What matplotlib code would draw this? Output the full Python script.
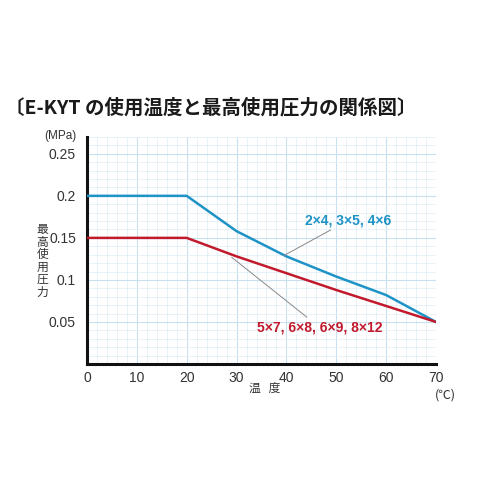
import matplotlib.pyplot as plt
from matplotlib.ticker import MultipleLocator

plt.rcParams["font.family"] = ["Noto Sans CJK JP", "DejaVu Sans"]
LATIN = ["Liberation Sans", "DejaVu Sans"]

BLUE = "#1e93c6"
RED = "#c11a2c"
INK = "#333333"

temp = [0, 20, 30, 40, 50, 60, 70]
small_sizes = [0.20, 0.20, 0.158, 0.128, 0.104, 0.082, 0.05]
large_sizes = [0.15, 0.15, 0.128, 0.108, 0.088, 0.069, 0.05]
x_ticks = [0, 10, 20, 30, 40, 50, 60, 70]
y_ticks = [0.05, 0.1, 0.15, 0.2, 0.25]
y_tick_labels = ["0.05", "0.1", "0.15", "0.2", "0.25"]

fig = plt.figure(figsize=(5, 5), dpi=100)
ax = fig.add_axes([0.174, 0.272, 0.698, 0.454])

ax.plot(temp, small_sizes, color=BLUE, lw=1.8, zorder=3)
ax.plot(temp, large_sizes, color=RED, lw=1.8, zorder=3)

ax.set_xlim(0, 70)
ax.set_ylim(0, 0.27)
ax.set_xticks(x_ticks)
ax.set_yticks(y_ticks)
ax.set_yticklabels(y_tick_labels)
ax.xaxis.set_minor_locator(MultipleLocator(2))
ax.yaxis.set_minor_locator(MultipleLocator(0.01))
ax.grid(which="major", color="#c9e1ef", lw=0.8)
ax.grid(which="minor", color="#e4f0f8", lw=0.6)
ax.set_axisbelow(True)
ax.tick_params(which="both", length=0, labelsize=10, labelcolor=INK)
ax.tick_params(axis="x", pad=5)
ax.tick_params(axis="y", pad=8)
for lbl in ax.get_xticklabels() + ax.get_yticklabels():
    lbl.set_family(LATIN)
for s in ("top", "right"):
    ax.spines[s].set_visible(False)
for s in ("left", "bottom"):
    ax.spines[s].set_linewidth(2.2)
    ax.spines[s].set_color("#111111")

# leader lines + series labels
ax.annotate("2×4, 3×5, 4×6", xy=(39.5, 0.129), xytext=(43.8, 0.171),
            color=BLUE, fontsize=10, fontweight="bold", va="center", family=LATIN,
            arrowprops=dict(arrowstyle="-", color="#888888", lw=0.7,
                            shrinkA=0, shrinkB=0))
ax.annotate("5×7, 6×8, 6×9, 8×12", xy=(29, 0.127), xytext=(34, 0.044),
            color=RED, fontsize=10, fontweight="bold", va="center", family=LATIN,
            arrowprops=dict(arrowstyle="-", color="#888888", lw=0.7,
                            shrinkA=0, shrinkB=0))

fig.text(0.01, 0.784, "〔E-KYT の使用温度と最高使用圧力の関係図〕",
         fontsize=14, fontweight="bold", color="#1a1a1a", va="center")
fig.text(0.12, 0.728, "(MPa)", fontsize=8.5, color=INK, ha="center", va="center",
         family=LATIN)
fig.text(0.085, 0.478, "最\n高\n使\n用\n圧\n力", fontsize=8.5, color=INK,
         ha="center", va="center", linespacing=0.95)
fig.text(0.53, 0.224, "温   度", fontsize=8.5, color=INK, ha="center", va="center")
fig.text(0.89, 0.21, "(℃)", fontsize=9, color=INK, ha="center", va="center")

fig.savefig("out.png", dpi=100, facecolor="white")
